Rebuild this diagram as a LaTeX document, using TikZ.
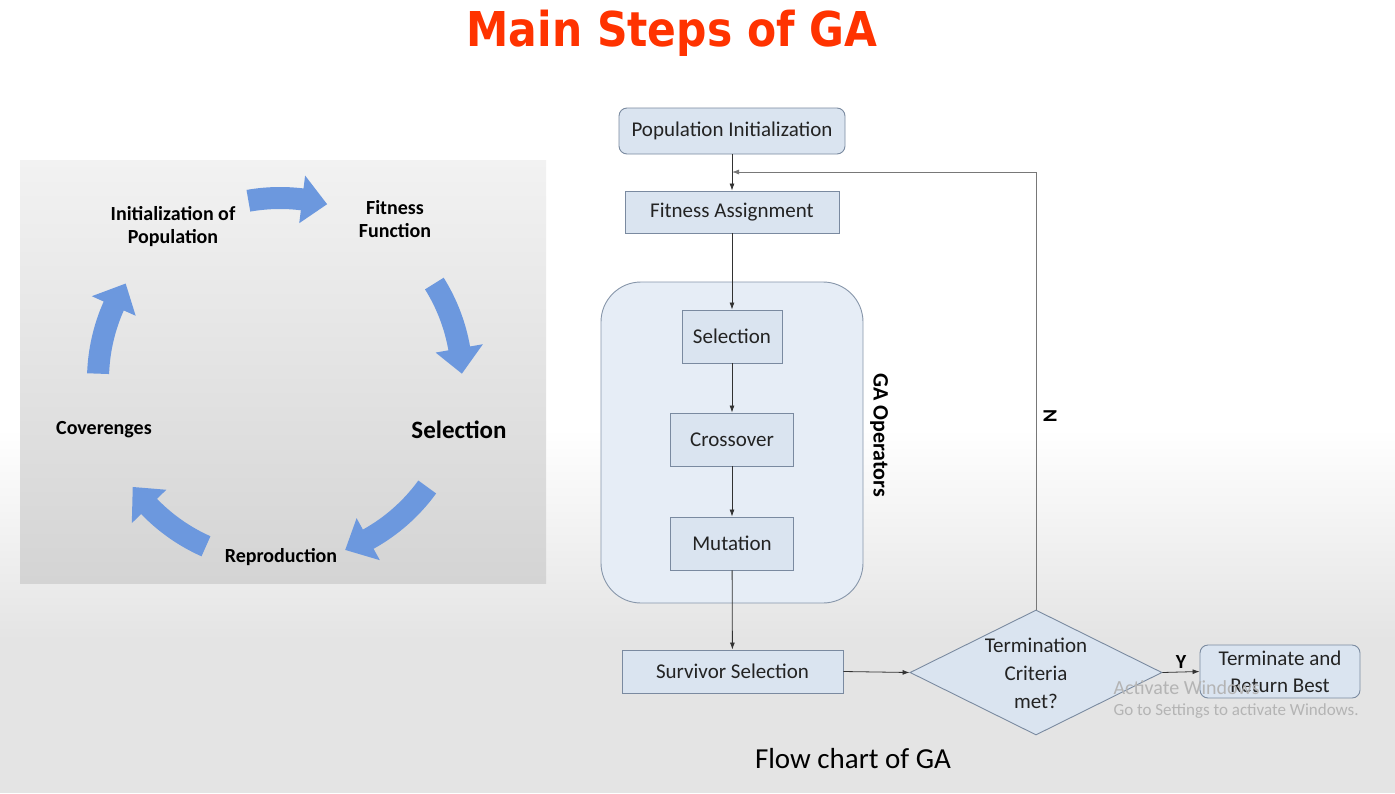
\documentclass[tikz,border=0pt]{standalone}
\usepackage{fontspec}
\setmainfont{Carlito}
\newfontfamily\titlefont{DejaVu Sans}
\usetikzlibrary{shapes.geometric,arrows.meta}
\definecolor{titlered}{RGB}{255,51,0}
\definecolor{boxfill}{RGB}{218,228,240}
\definecolor{boxline}{RGB}{122,138,160}
\definecolor{grpfill}{RGB}{230,237,246}
\definecolor{grpline}{RGB}{135,150,170}
\definecolor{arrowblue}{RGB}{108,152,222}
\definecolor{linecol}{RGB}{50,50,50}
\definecolor{fbcol}{RGB}{120,120,120}
\definecolor{txtcol}{RGB}{35,35,35}
\definecolor{bgbottom}{RGB}{228,228,228}
\definecolor{paneltop}{RGB}{242,242,242}
\definecolor{panelbot}{RGB}{212,212,212}
\definecolor{wmcol}{RGB}{180,180,180}
\newcommand\cycarrow[2]{%
  \fill[arrowblue] (#1:193) arc[start angle=#1, end angle={#2+8}, radius=193]
    -- ({#2+8}:206) -- (#2:182) -- ({#2+8}:158) -- ({#2+8}:171)
    arc[start angle={#2+8}, end angle=#1, radius=171] -- cycle;}
\begin{document}
\begin{tikzpicture}[x=1pt,y=-1pt,
  box/.style={draw=boxline, fill=boxfill, line width=0.9pt, text=txtcol,
    font=\fontsize{21}{24}\selectfont, inner sep=0pt},
  cyclabel/.style={font=\bfseries\fontsize{20}{23}\selectfont, align=center, text=black},
  arr/.style={draw=linecol, line width=0.8pt, -{Latex[length=7pt,width=5pt]}},
  wm/.style={text=wmcol, font=\fontsize{#1}{#1}\selectfont, anchor=west}]
\useasboundingbox (0,0) rectangle (1395,793);
% background
\fill[white] (0,0) rectangle (1395,430);
\shade[top color=white, bottom color=bgbottom] (0,429) rectangle (1395,640);
\fill[bgbottom] (0,639) rectangle (1395,793);
% title
\node (title) at (672,33) {\titlefont\bfseries\fontsize{48}{50}\selectfont\color{titlered}\scalebox{0.885}[1]{Main Steps of GA}};
% left panel
\shade[top color=paneltop, bottom color=panelbot] (20,160) rectangle (546,583);
\begin{scope}[shift={(280,380)}, x=1pt, y=1pt]
  \cycarrow{100}{75}
  \cycarrow{32}{2}
  \cycarrow{-36}{-69}
  \cycarrow{246}{216}
  \cycarrow{178}{148}
\end{scope}
\node[cyclabel] (cinit) at (173,227) {Initialization of\\Population};
\node[cyclabel] (cfit) at (395,219) {Fitness\\Function};
\node[cyclabel, font=\bfseries\fontsize{25}{28}\selectfont] (csel) at (459,430) {Selection};
\node[cyclabel] (cconv) at (104,430) {Coverenges};
\node[cyclabel] (crep) at (281,557) {Reproduction};
% flowchart
\node[box, draw=grpline, fill=grpfill, rounded corners=40pt, minimum width=262pt, minimum height=321pt] (grp) at (732,442.5) {};
\node[box, rounded corners=8pt, minimum width=226pt, minimum height=46pt] (popinit) at (732,131) {Population Initialization};
\node[box, minimum width=214pt, minimum height=42pt] (fitass) at (732,212) {Fitness Assignment};
\node[box, minimum width=100pt, minimum height=53pt] (selbox) at (732,336.5) {Selection};
\node[box, minimum width=123pt, minimum height=53pt] (cross) at (732,439.5) {Crossover};
\node[box, minimum width=123pt, minimum height=53pt] (mut) at (732,543.5) {Mutation};
\node[box, minimum width=221pt, minimum height=43pt] (surv) at (732.5,671.5) {Survivor Selection};
\node[box, shape=diamond, minimum width=252pt, minimum height=125pt] (diam) at (1036,672.5) {};
\node[align=center, text=txtcol, font=\fontsize{21}{28}\selectfont] (dtext) at (1036,673) {Termination\\Criteria\\met?};
\node[box, rounded corners=8pt, minimum width=160pt, minimum height=53pt, align=center, font=\fontsize{21}{27}\selectfont] (term) at (1280,671.5) {Terminate and\\Return Best};
\node[rotate=-90, font=\bfseries\fontsize{22}{24}\selectfont] (gaop) at (879,435) {GA Operators};
\coordinate (fb) at (732,172);
\draw[arr] (popinit) -- (fitass);
\draw[arr] (fitass) -- (selbox);
\draw[arr] (selbox) -- (cross);
\draw[arr] (cross) -- (mut);
\draw[arr] (mut) -- (surv);
\draw[arr] (surv.east) -- (diam.west);
\draw[arr] (diam.east) -- (term.west) node[midway, above=0pt, font=\bfseries\fontsize{20}{22}\selectfont, text=black] (ylab) {Y};
\draw[arr, draw=fbcol] (diam.north) |- (fb);
\node[rotate=-90, font=\bfseries\fontsize{20}{22}\selectfont] (nlab) at (1050,416) {N};
\node[font=\fontsize{29}{32}\selectfont, text=black] (caption) at (853,759) {Flow chart of GA};
% watermark
\node[wm=20] (wm1) at (1110,688) {Activate Windows};
\node[wm=17] (wm2) at (1110,711) {Go to Settings to activate Windows.};
\end{tikzpicture}
\end{document}
